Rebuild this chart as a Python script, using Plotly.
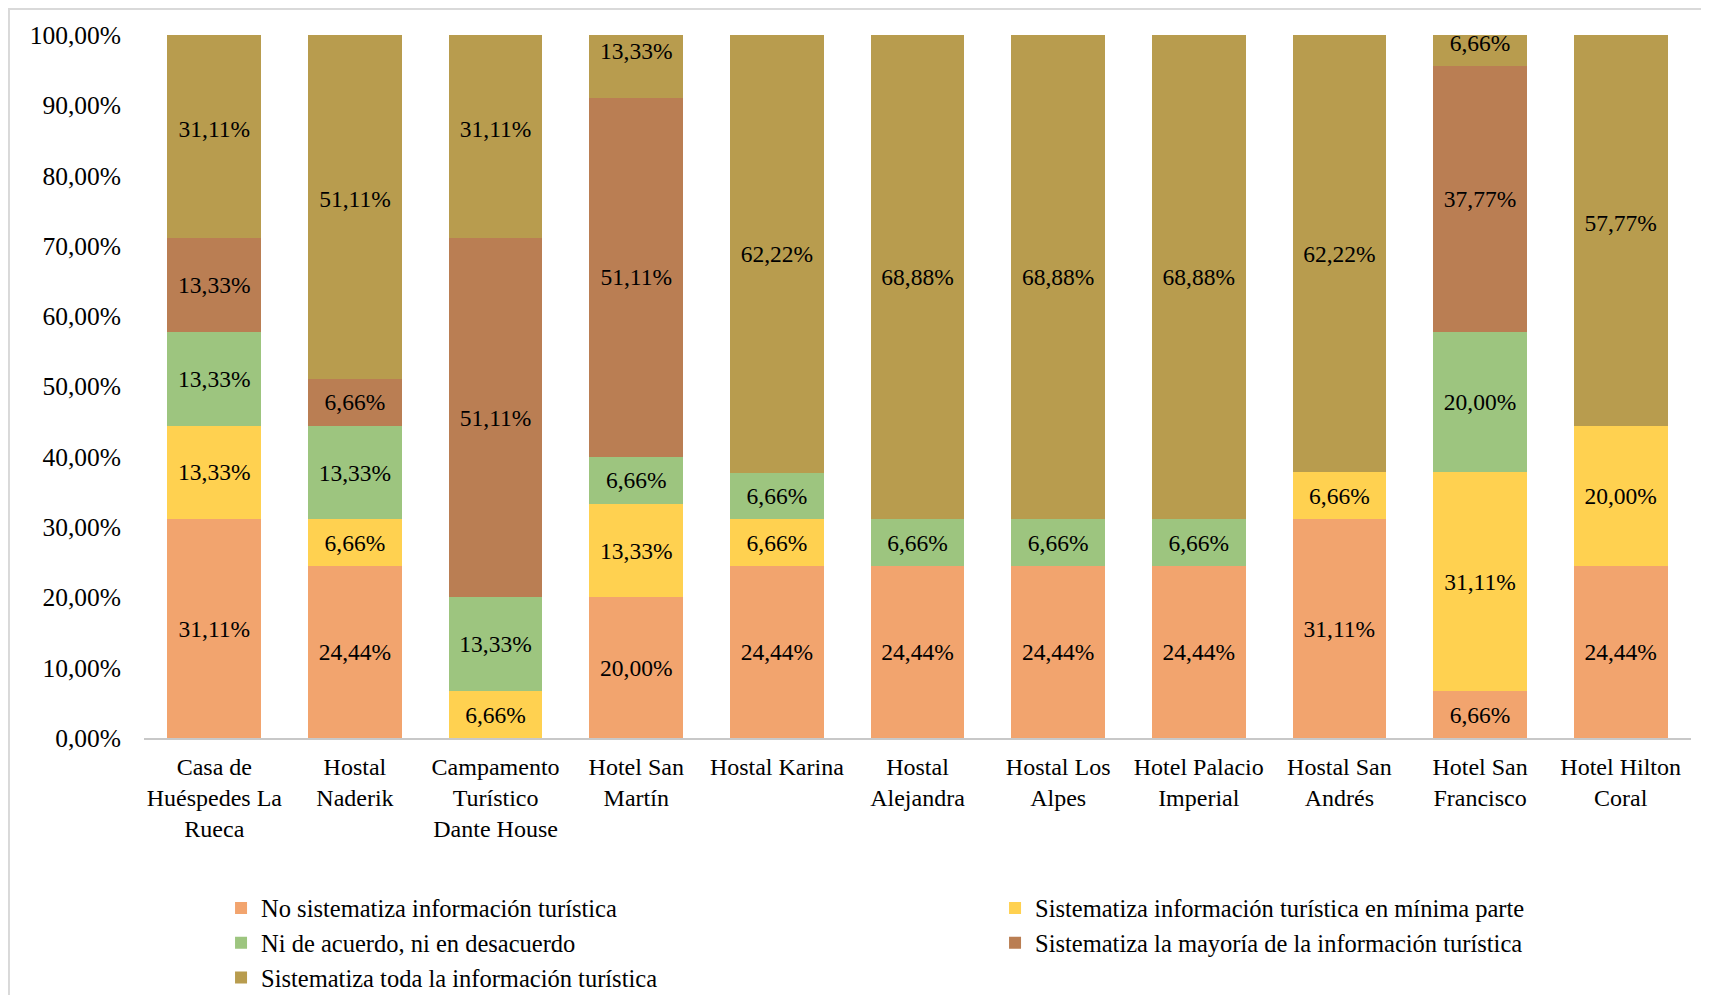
import plotly.graph_objects as go

categories = [
    "Casa de<br>Huéspedes La<br>Rueca",
    "Hostal<br>Naderik",
    "Campamento<br>Turístico<br>Dante House",
    "Hotel San<br>Martín",
    "Hostal Karina",
    "Hostal<br>Alejandra",
    "Hostal Los<br>Alpes",
    "Hotel Palacio<br>Imperial",
    "Hostal San<br>Andrés",
    "Hotel San<br>Francisco",
    "Hotel Hilton<br>Coral",
]

series_names = [
    "No sistematiza información turística",
    "Sistematiza información turística en mínima parte",
    "Ni de acuerdo, ni en desacuerdo",
    "Sistematiza la mayoría de la información turística",
    "Sistematiza toda la información turística",
]

no_sistematiza = [31.11, 24.44, None, 20.00, 24.44, 24.44, 24.44, 24.44, 31.11, 6.66, 24.44]
minima_parte = [13.33, 6.66, 6.66, 13.33, 6.66, None, None, None, 6.66, 31.11, 20.00]
ni_acuerdo = [13.33, 13.33, 13.33, 6.66, 6.66, 6.66, 6.66, 6.66, None, 20.00, None]
mayoria = [13.33, 6.66, 51.11, 51.11, None, None, None, None, None, 37.77, None]
toda = [31.11, 51.11, 31.11, 13.33, 62.22, 68.88, 68.88, 68.88, 62.22, 6.66, 57.77]

y_ticks = [0, 10, 20, 30, 40, 50, 60, 70, 80, 90, 100]
y_tick_labels = [f"{v:.2f}%".replace(".", ",") for v in y_ticks]

colors = ["#F2A46E", "#FFD150", "#9DC57F", "#BA7E53", "#B89C4E"]
series_values = [no_sistematiza, minima_parte, ni_acuerdo, mayoria, toda]

FONT = "Liberation Serif, Times New Roman, serif"

fig = go.Figure()
for name, vals, col in zip(series_names, series_values, colors):
    fig.add_trace(go.Bar(
        x=categories,
        y=vals,
        name=name,
        marker=dict(color=col, line=dict(width=0)),
        texttemplate="%{y:.2f}%",
        textposition="inside",
        insidetextanchor="middle",
        constraintext="none",
        textangle=0,
        textfont=dict(family=FONT, size=23.5, color="black"),
        hoverinfo="skip",
    ))

fig.update_layout(
    width=1701,
    height=987,
    barmode="stack",
    bargap=0.333,
    separators=",.",
    paper_bgcolor="white",
    plot_bgcolor="white",
    font=dict(family=FONT, size=24, color="black"),
    margin=dict(l=136, r=18, t=27, b=257, autoexpand=False),
    showlegend=True,
    legend=dict(
        orientation="h",
        x=0.0498, xanchor="left",
        y=-0.2098, yanchor="top",
        entrywidth=729,
        font=dict(family=FONT, size=24.5, color="black"),
        traceorder="normal",
        bgcolor="rgba(0,0,0,0)",
    ),
    xaxis=dict(
        showline=True, linecolor="#C8C8C8", linewidth=2,
        showgrid=False, zeroline=False, ticks="",
        ticklabelstandoff=6,
        automargin=False,
        tickfont=dict(family=FONT, size=24, color="black"),
        fixedrange=True,
    ),
    yaxis=dict(
        range=[0, 100],
        tickvals=y_ticks,
        ticktext=y_tick_labels,
        showline=False, showgrid=False, zeroline=False, ticks="",
        ticklabelstandoff=22,
        automargin=False,
        tickfont=dict(family=FONT, size=25.5, color="black"),
        fixedrange=True,
    ),
    shapes=[dict(
        type="rect", xref="paper", yref="paper",
        x0=-0.0873, x1=1.02, y0=-0.40, y1=1.037,
        line=dict(color="#D9D9D9", width=2),
        fillcolor="rgba(0,0,0,0)", layer="below",
    )],
)

fig.write_html("out.html")
